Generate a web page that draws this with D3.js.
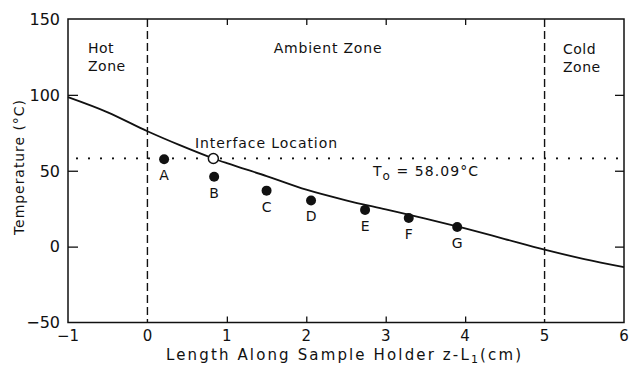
<!DOCTYPE html>
<html>
<head>
<meta charset="utf-8">
<script src="https://cdn.jsdelivr.net/npm/d3@7"></script>
<style>
  html, body { margin: 0; padding: 0; background: #fff; }
  svg text { font-family: "DejaVu Sans", "Liberation Sans", Arial, sans-serif; fill: #111; }
</style>
</head>
<body>
<svg id="chart" width="631" height="367"></svg>
<script>
// Temperature profile along the sample holder
const curveX = [-1, -0.5, 0, 0.4, 0.83, 1.0, 1.5, 2.0, 2.5, 3.0, 3.5, 4.0, 4.5, 5.0, 5.5, 6.0];
const curveT = [98.5, 88.5, 76, 67, 58.09, 55, 46.5, 37.5, 30.5, 24.5, 18.5, 12, 5, -2, -8.2, -13.5];

// Measured points A–G
const pointLabels = ["A", "B", "C", "D", "E", "F", "G"];
const pointX = [0.21, 0.84, 1.50, 2.06, 2.74, 3.29, 3.90];
const pointT = [57.6, 46.1, 36.9, 30.4, 24.2, 18.9, 12.9];

// Interface location (open circle) and the reference temperature
const interfaceX = 0.83;
const T0 = 58.09;

// Zone boundaries and axis ticks
const zoneBounds = [0, 5];
const xTicks = [-1, 0, 1, 2, 3, 4, 5, 6];
const yTicks = [-50, 0, 50, 100, 150];

const svg = d3.select("#chart");
const m = { left: 68, right: 7, top: 19, bottom: 44.5 };
const W = 631, H = 367;

const x = d3.scaleLinear().domain([-1, 6]).range([m.left, W - m.right]);
const y = d3.scaleLinear().domain([-50, 150]).range([H - m.bottom, m.top]);

const ink = "#111";

// frame
svg.append("rect")
  .attr("x", x(-1)).attr("y", y(150))
  .attr("width", x(6) - x(-1)).attr("height", y(-50) - y(150))
  .attr("fill", "none").attr("stroke", ink).attr("stroke-width", 1.5);

// inner ticks on all four sides
const xAxisB = d3.axisBottom(x).tickValues([1, 2, 3, 4]).tickSizeInner(-6).tickSizeOuter(0).tickFormat("");
const xAxisT = d3.axisTop(x).tickValues([1, 2, 3, 4]).tickSizeInner(-6).tickSizeOuter(0).tickFormat("");
const yAxisL = d3.axisLeft(y).tickValues([0, 50, 100]).tickSizeInner(-10).tickSizeOuter(0).tickFormat("");
const yAxisR = d3.axisRight(y).tickValues([0, 50, 100]).tickSizeInner(-9).tickSizeOuter(0).tickFormat("");

[[xAxisB, `translate(0,${y(-50)})`], [xAxisT, `translate(0,${y(150)})`],
 [yAxisL, `translate(${x(-1)},0)`], [yAxisR, `translate(${x(6)},0)`]].forEach(([ax, tr]) => {
  const g = svg.append("g").attr("transform", tr).call(ax);
  g.select(".domain").remove();
  g.selectAll("line").attr("stroke", ink).attr("stroke-width", 1.3);
});

// tick labels
svg.append("g").selectAll("text").data(xTicks).join("text")
  .attr("x", d => x(d)).attr("y", 341)
  .attr("text-anchor", "middle").attr("font-size", 15)
  .text(d => d < 0 ? "\u2212" + Math.abs(d) : d);

svg.append("g").selectAll("text").data(yTicks).join("text")
  .attr("x", 60).attr("y", d => y(d)).attr("dy", "0.36em")
  .attr("text-anchor", "end").attr("font-size", 16)
  .text(d => d < 0 ? "\u2212" + Math.abs(d) : d);

// zone boundaries
svg.append("g").selectAll("line").data(zoneBounds).join("line")
  .attr("x1", d => x(d)).attr("x2", d => x(d))
  .attr("y1", y(150)).attr("y2", y(-50))
  .attr("stroke", ink).attr("stroke-width", 1.4)
  .attr("stroke-dasharray", "8 4");

// T0 dotted line
svg.append("line")
  .attr("x1", x(-1) + 9).attr("x2", x(6))
  .attr("y1", y(T0)).attr("y2", y(T0))
  .attr("stroke", ink).attr("stroke-width", 2.2)
  .attr("stroke-linecap", "round")
  .attr("stroke-dasharray", "0 12");

// temperature curve
const line = d3.line().x(d => x(d[0])).y(d => y(d[1])).curve(d3.curveMonotoneX);
svg.append("path")
  .datum(d3.zip(curveX, curveT))
  .attr("d", line)
  .attr("fill", "none").attr("stroke", ink).attr("stroke-width", 1.8);

// measured points
const pts = d3.zip(pointX, pointT, pointLabels);
svg.append("g").selectAll("circle").data(pts).join("circle")
  .attr("cx", d => x(d[0])).attr("cy", d => y(d[1])).attr("r", 5)
  .attr("fill", ink);
svg.append("g").selectAll("text").data(pts).join("text")
  .attr("x", d => x(d[0])).attr("y", d => y(d[1]) + 21)
  .attr("text-anchor", "middle").attr("font-size", 14)
  .text(d => d[2]);

// interface location
svg.append("circle")
  .attr("cx", x(interfaceX)).attr("cy", y(T0)).attr("r", 5)
  .attr("fill", "#fff").attr("stroke", ink).attr("stroke-width", 1.5);
svg.append("text")
  .attr("x", 195).attr("y", 148).attr("font-size", 14)
  .attr("textLength", 142).attr("lengthAdjust", "spacing")
  .text("Interface Location");

// T0 annotation
const t0 = svg.append("text").attr("x", 373).attr("y", 176).attr("font-size", 14)
  .attr("textLength", 105).attr("lengthAdjust", "spacing");
t0.append("tspan").text("T");
t0.append("tspan").attr("dy", 4).attr("font-size", 12).text("o");
t0.append("tspan").attr("dy", -4).text(" = 58.09\u00B0C");

// zone titles
const zoneText = (tx, ty, lines) => {
  lines.forEach((s, i) => {
    svg.append("text").attr("x", tx).attr("y", ty + i * 18).attr("font-size", 14)
      .attr("letter-spacing", 0.5).text(s);
  });
};
zoneText(88, 53, ["Hot", "Zone"]);
zoneText(563, 54, ["Cold", "Zone"]);
svg.append("text").attr("x", 328).attr("y", 53).attr("font-size", 14)
  .attr("text-anchor", "middle").attr("letter-spacing", 0.8).text("Ambient Zone");

// axis titles
const xt = svg.append("text").attr("x", 166).attr("y", 360).attr("font-size", 15)
  .attr("textLength", 355).attr("lengthAdjust", "spacing");
xt.append("tspan").text("Length Along Sample Holder z-L");
xt.append("tspan").attr("dy", 3).attr("font-size", 11).text("1");
xt.append("tspan").attr("dy", -3).text("(cm)");

svg.append("text")
  .attr("transform", `translate(24,${(100 + 235) / 2}) rotate(-90)`)
  .attr("text-anchor", "middle").attr("font-size", 14)
  .attr("textLength", 135).attr("lengthAdjust", "spacing")
  .text("Temperature (\u00B0C)");
</script>
</body>
</html>
